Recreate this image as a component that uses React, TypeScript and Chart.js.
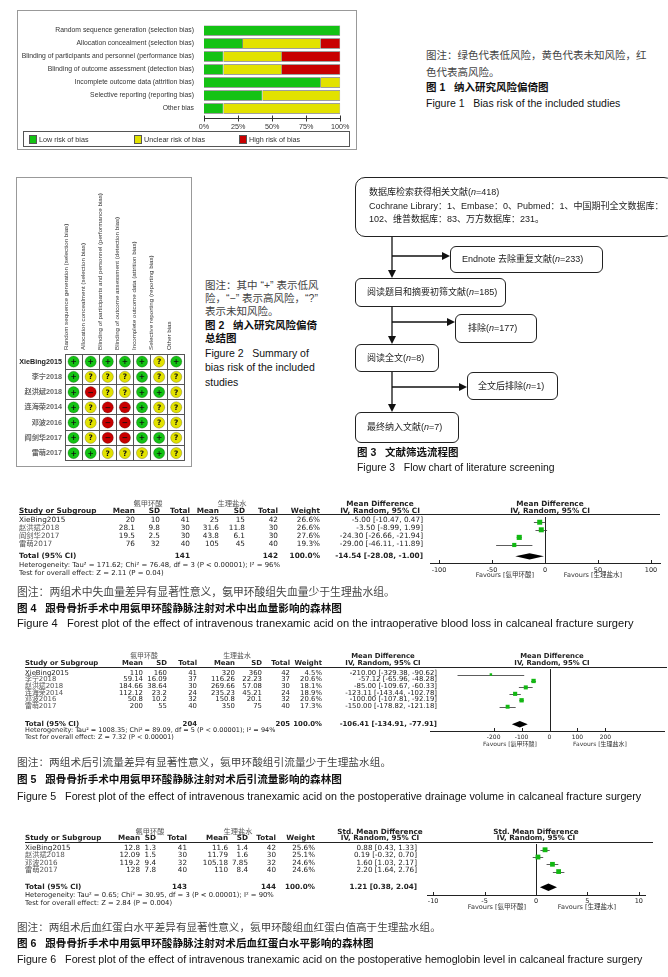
import React, { useEffect, useRef } from 'react';
import { Chart, registerables } from 'chart.js';
Chart.register(...registerables);

const W = 668, H = 977;
const SANS = "'Liberation Sans', Arial, 'Noto Sans CJK SC', sans-serif";
const RM = "'DejaVu Sans', 'Noto Sans CJK SC', sans-serif";
const GREEN = '#14c214', YELLOW = '#e2e200', RED = '#c80000';
const SQ_GREEN = '#12b812';

// ---------- Figure 1 / Figure 2 data ----------
const domains = [
  'Random sequence generation (selection bias)',
  'Allocation concealment (selection bias)',
  'Blinding of participants and personnel (performance bias)',
  'Blinding of outcome assessment (detection bias)',
  'Incomplete outcome data (attrition bias)',
  'Selective reporting (reporting bias)',
  'Other bias',
];
const lowPct = [100, 28.6, 14.3, 14.3, 85.7, 42.9, 14.3];
const unclearPct = [0, 57.1, 42.9, 42.9, 14.3, 57.1, 85.7];
const highPct = [0, 14.3, 42.9, 42.9, 0, 0, 0];
const pctTicks = [0, 25, 50, 75, 100];
const legendLabels = ['Low risk of bias', 'Unclear risk of bias', 'High risk of bias'];

const robStudies = ['XieBing2015', '李宁2018', '赵洪斌2018', '连海荣2014', '邓波2016', '阎剑华2017', '雷萌2017'];
const robJudge: string[][] = [
  ['+', '+', '+', '+', '+', '?', '+'],
  ['+', '?', '?', '?', '+', '?', '?'],
  ['+', '-', '?', '?', '+', '+', '?'],
  ['+', '?', '-', '-', '+', '?', '?'],
  ['+', '?', '-', '-', '+', '?', '?'],
  ['+', '?', '-', '-', '+', '+', '?'],
  ['+', '+', '?', '?', '?', '+', '?'],
];

// ---------- Figure 4 ----------
const f4Studies = ['XieBing2015', '赵洪斌2018', '阎剑华2017', '雷萌2017'];
const f4TxMean = [20, 28.1, 19.5, 76];
const f4TxSD = [10, 9.8, 2.5, 32];
const f4TxN = [41, 30, 30, 40];
const f4CtMean = [25, 31.6, 43.8, 105];
const f4CtSD = [15, 11.8, 6.1, 45];
const f4CtN = [42, 30, 30, 40];
const f4Weight = [26.6, 26.6, 27.6, 19.3];
const f4Est = [-5.0, -3.5, -24.3, -29.0];
const f4Lo = [-10.47, -8.99, -26.66, -46.11];
const f4Hi = [0.47, 1.99, -21.94, -11.89];
const f4Total = { tx: 141, ct: 142, est: -14.54, lo: -28.08, hi: -1.0 };
const f4Ticks = [-100, -50, 0, 50, 100];
const f4Het = 'Heterogeneity: Tau² = 171.62; Chi² = 76.48, df = 3 (P < 0.00001); I² = 96%';
const f4Test = 'Test for overall effect: Z = 2.11 (P = 0.04)';

// ---------- Figure 5 ----------
const f5Studies = ['XieBing2015', '李宁2018', '赵洪斌2018', '连海荣2014', '邓波2016', '雷萌2017'];
const f5TxMean = [110, 59.14, 184.66, 112.12, 50.8, 200];
const f5TxSD = [160, 16.09, 38.64, 23.2, 10.2, 55];
const f5TxN = [41, 37, 30, 24, 32, 40];
const f5CtMean = [320, 116.26, 269.66, 235.23, 150.8, 350];
const f5CtSD = [360, 22.23, 57.08, 45.21, 20.1, 75];
const f5CtN = [42, 37, 30, 24, 32, 40];
const f5Weight = [4.5, 20.6, 18.1, 18.9, 20.6, 17.3];
const f5Est = [-210.0, -57.12, -85.0, -123.11, -100.0, -150.0];
const f5Lo = [-329.38, -65.96, -109.67, -143.44, -107.81, -178.82];
const f5Hi = [-90.62, -48.28, -60.33, -102.78, -92.19, -121.18];
const f5Total = { tx: 204, ct: 205, est: -106.41, lo: -134.91, hi: -77.91 };
const f5Ticks = [-200, -100, 0, 100, 200];
const f5Het = 'Heterogeneity: Tau² = 1008.35; Chi² = 89.09, df = 5 (P < 0.00001); I² = 94%';
const f5Test = 'Test for overall effect: Z = 7.32 (P < 0.00001)';

// ---------- Figure 6 ----------
const f6Studies = ['XieBing2015', '赵洪斌2018', '邓波2016', '雷萌2017'];
const f6TxMean = [12.8, 12.09, 119.2, 128];
const f6TxSD = [1.3, 1.5, 9.4, 7.8];
const f6TxN = [41, 30, 32, 40];
const f6CtMean = [11.6, 11.79, 105.18, 110];
const f6CtSD = [1.4, 1.6, 7.85, 8.4];
const f6CtN = [42, 30, 32, 40];
const f6Weight = [25.6, 25.1, 24.6, 24.6];
const f6Est = [0.88, 0.19, 1.6, 2.2];
const f6Lo = [0.43, -0.32, 1.03, 1.64];
const f6Hi = [1.33, 0.7, 2.17, 2.76];
const f6Total = { tx: 143, ct: 144, est: 1.21, lo: 0.38, hi: 2.04 };
const f6Ticks = [-10, -5, 0, 5, 10];
const f6Het = 'Heterogeneity: Tau² = 0.65; Chi² = 30.95, df = 3 (P < 0.00001); I² = 90%';
const f6Test = 'Test for overall effect: Z = 2.84 (P = 0.004)';

// ---------- helpers ----------
type TP = { x: number; y: number; a?: 'l' | 'r' | 'c'; s?: number; b?: boolean; f?: string; c?: string; children: React.ReactNode };
const T = ({ x, y, a = 'l', s = 10.5, b = false, f = SANS, c = '#111', children }: TP) => {
  const st: React.CSSProperties = {
    position: 'absolute', top: y - s * 0.6, fontSize: s, lineHeight: `${s * 1.2}px`,
    fontFamily: f, fontWeight: b ? 700 : 400, color: c, whiteSpace: 'pre',
  };
  if (a === 'l') st.left = x;
  else if (a === 'r') st.right = W - x;
  else { st.left = x; st.transform = 'translateX(-50%)'; }
  return <div style={st}>{children}</div>;
};
const fmt = (v: number) => v.toFixed(2);
const isAscii = (s: string) => /^[\x00-\x7f]*$/.test(s);

// ---------- Figure 1 chart ----------
function Fig1Chart() {
  const ref = useRef<HTMLCanvasElement>(null);
  useEffect(() => {
    const axisPlugin = {
      id: 'robAxis',
      afterDraw(chart: any) {
        const { ctx, chartArea: ca, scales: { x } } = chart;
        const y0 = Math.round(ca.bottom + 3) + 0.5;
        ctx.save();
        ctx.strokeStyle = '#333';
        ctx.lineWidth = 1;
        ctx.beginPath();
        ctx.moveTo(x.getPixelForValue(0), y0);
        ctx.lineTo(x.getPixelForValue(100), y0);
        pctTicks.forEach((v) => {
          const px = Math.round(x.getPixelForValue(v)) + 0.5;
          ctx.moveTo(px, y0 - 3);
          ctx.lineTo(px, y0 + 3);
        });
        ctx.stroke();
        ctx.restore();
      },
    };
    const ds = (label: string, data: number[], color: string) => ({
      label, data, backgroundColor: color, borderColor: '#555',
      borderWidth: (c: any) => (c.raw > 0 ? 0.7 : 0),
      barPercentage: 0.8, categoryPercentage: 1,
    });
    const chart = new Chart(ref.current!, {
      type: 'bar',
      data: {
        labels: domains,
        datasets: [ds(legendLabels[0], lowPct, GREEN), ds(legendLabels[1], unclearPct, YELLOW), ds(legendLabels[2], highPct, RED)] as any,
      },
      options: {
        indexAxis: 'y', animation: false, responsive: false, events: [],
        layout: { padding: { top: 7, right: 8.5, left: 0, bottom: 0 } },
        plugins: { legend: { display: false }, tooltip: { enabled: false } },
        scales: {
          x: {
            stacked: true, min: 0, max: 100,
            grid: { display: false, drawTicks: false }, border: { display: false },
            afterBuildTicks: (a: any) => { a.ticks = pctTicks.map((v) => ({ value: v })); },
            ticks: { callback: (v: any) => v + '%', font: { size: 7.2, family: SANS }, color: '#333', padding: 7.5, maxRotation: 0, autoSkip: false },
            afterFit: (s: any) => { s.height = 20; },
          },
          y: {
            stacked: true, grid: { display: false, drawTicks: false }, border: { display: false },
            ticks: { font: { size: 6.8, family: SANS }, color: '#333', padding: 10, autoSkip: false },
            afterFit: (s: any) => { s.width = 187; },
          },
        },
      } as any,
      plugins: [axisPlugin],
    });
    return () => chart.destroy();
  }, []);
  return <canvas ref={ref} width={340} height={125} style={{ position: 'absolute', left: 17, top: 10, width: 340, height: 125 }} />;
}

// ---------- Figure 2 chart ----------
function Fig2Chart() {
  const ref = useRef<HTMLCanvasElement>(null);
  useEffect(() => {
    const pts: any[] = [];
    const cols: string[] = [];
    const syms: string[] = [];
    robStudies.forEach((s, i) =>
      domains.forEach((d, j) => {
        const j0 = robJudge[i][j];
        pts.push({ x: d, y: s });
        cols.push(j0 === '+' ? GREEN : j0 === '?' ? YELLOW : RED);
        syms.push(j0 === '+' ? '+' : j0 === '?' ? '?' : '−');
      })
    );
    const symPlugin = {
      id: 'sym',
      afterDatasetsDraw(chart: any) {
        const { ctx } = chart;
        const meta = chart.getDatasetMeta(0);
        ctx.save();
        ctx.fillStyle = '#111';
        ctx.font = "bold 7.5px 'DejaVu Sans'";
        ctx.textAlign = 'center';
        ctx.textBaseline = 'middle';
        meta.data.forEach((el: any, k: number) => ctx.fillText(syms[k], el.x, el.y + 0.5));
        ctx.restore();
      },
    };
    const chart = new Chart(ref.current!, {
      type: 'scatter',
      data: {
        datasets: [{
          data: pts, pointRadius: 5.6, pointBackgroundColor: cols,
          pointBorderColor: 'rgba(0,0,0,0.35)', pointBorderWidth: 0.6,
        }],
      },
      options: {
        animation: false, responsive: false, events: [],
        layout: { padding: { right: 5, bottom: 2, top: 0, left: 0 } },
        plugins: { legend: { display: false }, tooltip: { enabled: false } },
        scales: {
          x: {
            type: 'category', labels: domains, position: 'top', offset: true,
            grid: { offset: true, color: '#555', lineWidth: 1, drawTicks: false },
            border: { display: true, color: '#555' },
            ticks: { font: { size: 6.2, family: SANS }, color: '#333', minRotation: 90, maxRotation: 90, autoSkip: false, padding: 4 },
            afterFit: (s: any) => { s.height = 176; },
          },
          y: {
            type: 'category', labels: robStudies, offset: true,
            grid: { offset: true, color: '#555', lineWidth: 1, drawTicks: false },
            border: { display: true, color: '#555' },
            ticks: {
              font: { size: 7.2, family: SANS, weight: 'bold' },
              color: (c: any) => (isAscii(String(c.tick?.label ?? '')) ? '#222' : '#666'),
              padding: 3, autoSkip: false,
            },
            afterFit: (s: any) => { s.width = 48; },
          },
        },
      } as any,
      plugins: [symPlugin],
    });
    return () => chart.destroy();
  }, []);
  return <canvas ref={ref} width={174} height={290} style={{ position: 'absolute', left: 17, top: 178, width: 174, height: 290 }} />;
}

// ---------- Forest plot block ----------
type FD = {
  studies: string[]; txM: number[]; txSD: number[]; txN: number[];
  ctM: number[]; ctSD: number[]; ctN: number[]; wt: number[];
  est: number[]; lo: number[]; hi: number[];
  tot: { tx: number; ct: number; est: number; lo: number; hi: number };
  ticks: number[]; het: string; test: string; measure: string;
};
type FL = {
  fs: number; gy: number; hy: number; lineY: number; lineX2: number; studyX: number;
  cols: number[]; ciR: number; ciC: number; plotC: number; g1: number; g2: number;
  rowY0: number; rowDy: number; totY: number; hetY: number; testY: number;
  axL: number; axR: number; axY: number; xMin: number; xMax: number;
  tickFs: number; tickPad: number; favY: number; fav1: number; fav2: number; axisH: number; dh: number;
};

function ForestBlock({ d, L }: { d: FD; L: FL }) {
  const ref = useRef<HTMLCanvasElement>(null);
  const cl = L.axL - 6, ct = L.lineY - 2, cw = W - cl, ch = L.axY - ct + L.axisH;
  useEffect(() => {
    const yMin = -(L.rowY0 - L.lineY) / L.rowDy;
    const yMax = (L.axY - L.rowY0) / L.rowDy;
    const totRow = (L.totY - L.rowY0) / L.rowDy;
    const forest = {
      id: 'forest',
      beforeDatasetsDraw(chart: any) {
        const { ctx, chartArea: ca, scales: { x, y } } = chart;
        ctx.save();
        ctx.strokeStyle = '#222';
        ctx.lineWidth = 1;
        const x0 = Math.round(x.getPixelForValue(0)) + 0.5;
        ctx.beginPath();
        ctx.moveTo(x0, ca.top);
        ctx.lineTo(x0, ca.bottom);
        d.ticks.forEach((v) => {
          const px = Math.round(x.getPixelForValue(v)) + 0.5;
          ctx.moveTo(px, ca.bottom);
          ctx.lineTo(px, ca.bottom - 3);
        });
        ctx.stroke();
        ctx.strokeStyle = '#333';
        ctx.lineWidth = 0.8;
        d.lo.forEach((l, i) => {
          const py = Math.round(y.getPixelForValue(i)) + 0.5;
          ctx.beginPath();
          ctx.moveTo(Math.max(ca.left, x.getPixelForValue(l)), py);
          ctx.lineTo(Math.min(ca.right, x.getPixelForValue(d.hi[i])), py);
          ctx.stroke();
        });
        const ty = y.getPixelForValue(totRow);
        ctx.fillStyle = '#000';
        ctx.beginPath();
        ctx.moveTo(x.getPixelForValue(d.tot.lo), ty);
        ctx.lineTo(x.getPixelForValue(d.tot.est), ty - L.dh);
        ctx.lineTo(x.getPixelForValue(d.tot.hi), ty);
        ctx.lineTo(x.getPixelForValue(d.tot.est), ty + L.dh);
        ctx.closePath();
        ctx.fill();
        ctx.restore();
      },
    };
    const chart = new Chart(ref.current!, {
      type: 'scatter',
      data: {
        datasets: [{
          data: d.est.map((v, i) => ({ x: v, y: i })),
          pointStyle: 'rect', pointRadius: d.wt.map((w) => 1.4 + w * 0.08),
          pointBackgroundColor: SQ_GREEN, pointBorderWidth: 0, pointBorderColor: SQ_GREEN,
        }],
      },
      options: {
        animation: false, responsive: false, events: [],
        layout: { padding: { left: 6, right: W - L.axR, top: 2, bottom: 0 } },
        plugins: { legend: { display: false }, tooltip: { enabled: false } },
        scales: {
          x: {
            type: 'linear', min: L.xMin, max: L.xMax,
            afterBuildTicks: (a: any) => { a.ticks = d.ticks.map((v) => ({ value: v })); },
            grid: { display: false, drawTicks: false },
            border: { display: true, color: '#222', width: 1 },
            ticks: { font: { size: L.tickFs, family: RM }, color: '#222', padding: L.tickPad, maxRotation: 0, autoSkip: false },
            afterFit: (s: any) => { s.height = L.axisH; },
          },
          y: { type: 'linear', display: false, reverse: true, min: yMin, max: yMax },
        },
      } as any,
      plugins: [forest],
    });
    return () => chart.destroy();
  }, []);

  const c = L.cols;
  const items: React.ReactNode[] = [];
  const add = (x: number, y: number, t: string, a: 'l' | 'r' | 'c', b = false, col = '#222', s = L.fs) =>
    items.push(<T key={items.length} x={x} y={y} a={a} s={s} b={b} f={RM} c={col}>{t}</T>);
  add(L.g1, L.gy, '氨甲环酸', 'c', false, '#555');
  add(L.g2, L.gy, '生理盐水', 'c', false, '#555');
  add(L.ciC, L.gy, d.measure, 'c', true);
  add(L.plotC, L.gy, d.measure, 'c', true);
  add(L.studyX, L.hy, 'Study or Subgroup', 'l', true);
  ['Mean', 'SD', 'Total', 'Mean', 'SD', 'Total', 'Weight'].forEach((h, i) => add(c[i], L.hy, h, 'r', true));
  add(L.ciC, L.hy, 'IV, Random, 95% CI', 'c', true);
  add(L.plotC, L.hy, 'IV, Random, 95% CI', 'c', true);
  d.studies.forEach((s, i) => {
    const y = L.rowY0 + i * L.rowDy;
    add(L.studyX, y, s, 'l', false, isAscii(s) ? '#222' : '#555');
    const vals = [d.txM[i], d.txSD[i], d.txN[i], d.ctM[i], d.ctSD[i], d.ctN[i]].map(String);
    vals.forEach((v, k) => add(c[k], y, v, 'r'));
    add(c[6], y, d.wt[i].toFixed(1) + '%', 'r');
    add(L.ciR, y, `${fmt(d.est[i])} [${fmt(d.lo[i])}, ${fmt(d.hi[i])}]`, 'r');
  });
  add(L.studyX, L.totY, 'Total (95% CI)', 'l', true);
  add(c[2], L.totY, String(d.tot.tx), 'r', true);
  add(c[5], L.totY, String(d.tot.ct), 'r', true);
  add(c[6], L.totY, '100.0%', 'r', true);
  add(L.ciR, L.totY, `${fmt(d.tot.est)} [${fmt(d.tot.lo)}, ${fmt(d.tot.hi)}]`, 'r', true);
  add(L.studyX, L.hetY, d.het, 'l', false, '#222', L.fs - 0.4);
  add(L.studyX, L.testY, d.test, 'l', false, '#222', L.fs - 0.4);
  add(L.fav1, L.favY, 'Favours [氨甲环酸]', 'c', false, '#333', L.tickFs);
  add(L.fav2, L.favY, 'Favours [生理盐水]', 'c', false, '#333', L.tickFs);

  return (
    <>
      {items}
      <div style={{ position: 'absolute', left: L.studyX, top: L.lineY - 0.5, width: L.lineX2 - L.studyX, height: 1, background: '#222' }} />
      <canvas ref={ref} width={cw} height={ch} style={{ position: 'absolute', left: cl, top: ct, width: cw, height: ch }} />
    </>
  );
}

// ---------- Flow chart (Figure 3) ----------
function Flow() {
  const box = (l: number, t: number, r: number, b: number, rad: number, k: string) => (
    <div key={k} style={{ position: 'absolute', left: l, top: t, width: r - l, height: b - t, border: '1.2px solid #222', borderRadius: rad, boxSizing: 'border-box' }} />
  );
  const fs = 9;
  const n = <i>n</i>;
  const vx = 392;
  const down = (y1: number, y2: number) => (
    <g>
      <line x1={vx} y1={y1} x2={vx} y2={y2 - 7} />
      <polygon points={`${vx},${y2} ${vx - 4},${y2 - 8} ${vx + 4},${y2 - 8}`} fill="#111" stroke="none" />
    </g>
  );
  const right = (y: number, x2: number) => (
    <g>
      <line x1={vx} y1={y} x2={x2 - 7} y2={y} />
      <polygon points={`${x2},${y} ${x2 - 8},${y - 4} ${x2 - 8},${y + 4}`} fill="#111" stroke="none" />
    </g>
  );
  return (
    <>
      {box(355, 177, 674, 237, 10, 'b1')}
      {box(450, 246, 603, 273, 6, 'b2')}
      {box(355, 278, 506, 307, 6, 'b3')}
      {box(455, 314, 537, 343, 6, 'b4')}
      {box(355, 344, 439, 372, 6, 'b5')}
      {box(467, 372, 558, 400, 6, 'b6')}
      {box(355, 412, 459, 443, 6, 'b7')}
      <svg width={W} height={H} style={{ position: 'absolute', left: 0, top: 0 }}>
        <g stroke="#111" strokeWidth={1.3} fill="none">
          {down(237, 278)}
          {right(256, 450)}
          {down(307, 344)}
          {right(322, 455)}
          {down(372, 412)}
          {right(387, 467)}
        </g>
      </svg>
      <T x={369} y={192} s={fs} c="#222">数据库检索获得相关文献({n}=418)</T>
      <T x={369} y={206} s={fs} c="#222">Cochrane Library：1、Embase：0、Pubmed：1、中国期刊全文数据库：</T>
      <T x={369} y={219} s={fs} c="#222">102、维普数据库：83、万方数据库：231。</T>
      <T x={462} y={259.5} s={fs} c="#222">Endnote 去除重复文献({n}=233)</T>
      <T x={367} y={292.5} s={fs} c="#222">阅读题目和摘要初筛文献({n}=185)</T>
      <T x={468} y={328.5} s={fs} c="#222">排除({n}=177)</T>
      <T x={367} y={358} s={fs} c="#222">阅读全文({n}=8)</T>
      <T x={478} y={386} s={fs} c="#222">全文后排除({n}=1)</T>
      <T x={367} y={427.5} s={fs} c="#222">最终纳入文献({n}=7)</T>
    </>
  );
}

const f4: FD = { studies: f4Studies, txM: f4TxMean, txSD: f4TxSD, txN: f4TxN, ctM: f4CtMean, ctSD: f4CtSD, ctN: f4CtN, wt: f4Weight, est: f4Est, lo: f4Lo, hi: f4Hi, tot: f4Total, ticks: f4Ticks, het: f4Het, test: f4Test, measure: 'Mean Difference' };
const f5: FD = { studies: f5Studies, txM: f5TxMean, txSD: f5TxSD, txN: f5TxN, ctM: f5CtMean, ctSD: f5CtSD, ctN: f5CtN, wt: f5Weight, est: f5Est, lo: f5Lo, hi: f5Hi, tot: f5Total, ticks: f5Ticks, het: f5Het, test: f5Test, measure: 'Mean Difference' };
const f6: FD = { studies: f6Studies, txM: f6TxMean, txSD: f6TxSD, txN: f6TxN, ctM: f6CtMean, ctSD: f6CtSD, ctN: f6CtN, wt: f6Weight, est: f6Est, lo: f6Lo, hi: f6Hi, tot: f6Total, ticks: f6Ticks, het: f6Het, test: f6Test, measure: 'Std. Mean Difference' };

const L4: FL = { fs: 7.3, gy: 504.5, hy: 511, lineY: 514.5, lineX2: 660, studyX: 19, cols: [135, 160, 190, 219, 245, 278, 320], ciR: 423, ciC: 380, plotC: 550, g1: 148, g2: 232, rowY0: 520, rowDy: 8, totY: 556, hetY: 565.5, testY: 573, axL: 430, axR: 660, axY: 563, xMin: -108.5, xMax: 108.5, tickFs: 6.5, tickPad: 3, favY: 575.5, fav1: 505, fav2: 593, axisH: 14, dh: 3.2 };
const L5: FL = { fs: 6.9, gy: 656, hy: 663, lineY: 667, lineX2: 667, studyX: 25, cols: [143, 167, 197, 235, 262, 290, 322], ciR: 437, ciC: 383, plotC: 552, g1: 144, g2: 237, rowY0: 672.7, rowDy: 6.65, totY: 724, hetY: 731, testY: 738, axL: 430, axR: 665, axY: 731, xMin: -428, xMax: 410, tickFs: 6, tickPad: 2.5, favY: 744, fav1: 510, fav2: 600, axisH: 13, dh: 3.3 };
const L6: FL = { fs: 7.2, gy: 832, hy: 838.5, lineY: 842, lineX2: 653, studyX: 25, cols: [140, 156, 187, 228, 248, 276, 315], ciR: 417, ciC: 380, plotC: 536, g1: 150, g2: 238, rowY0: 848, rowDy: 7.55, totY: 887, hetY: 895.5, testY: 903, axL: 427, axR: 645, axY: 895, xMin: -10.6, xMax: 10.6, tickFs: 6.5, tickPad: 2, favY: 908, fav1: 497, fav2: 587, axisH: 15, dh: 3.8 };

export default function App() {
  const gray = '#444';
  return (
    <div style={{ position: 'absolute', left: 0, top: 0, width: W, height: H, background: '#fff', overflow: 'hidden' }}>
      {/* Figure 1 */}
      <div style={{ position: 'absolute', left: 17, top: 10, width: 340, height: 140, border: '1px solid #999', boxSizing: 'border-box' }} />
      <Fig1Chart />
      <div style={{ position: 'absolute', left: 22.5, top: 131, width: 327.5, height: 16, border: '1px solid #555', boxSizing: 'border-box' }} />
      {[GREEN, YELLOW, RED].map((col, i) => (
        <div key={i} style={{ position: 'absolute', left: [28.5, 133.5, 238.5][i], top: 134.5, width: 8.5, height: 9.5, background: col, border: '0.7px solid #555', boxSizing: 'border-box' }} />
      ))}
      {legendLabels.map((l, i) => (
        <T key={i} x={[39, 144, 249][i]} y={140} s={7.2} c="#333">{l}</T>
      ))}
      <T x={426} y={55} c={gray}>图注：绿色代表低风险，黄色代表未知风险，红</T>
      <T x={426} y={72} c={gray}>色代表高风险。</T>
      <T x={426} y={87.5} b>图 1   纳入研究风险偏倚图</T>
      <T x={426} y={103}>Figure 1   Bias risk of the included studies</T>

      {/* Figure 2 */}
      <div style={{ position: 'absolute', left: 16, top: 177, width: 176, height: 290, border: '1px solid #999', boxSizing: 'border-box' }} />
      <Fig2Chart />
      <T x={205} y={285} c={gray}>图注：其中 “+” 表示低风</T>
      <T x={205} y={298.5} c={gray}>险，“−” 表示高风险，“?”</T>
      <T x={205} y={311.5} c={gray}>表示未知风险。</T>
      <T x={205} y={325} b>图 2   纳入研究风险偏倚</T>
      <T x={205} y={338} b>总结图</T>
      <T x={205} y={353.5}>Figure 2   Summary of</T>
      <T x={205} y={367}>bias risk of the included</T>
      <T x={205} y={382}>studies</T>

      {/* Figure 3 */}
      <Flow />
      <T x={357} y={452} b>图 3   文献筛选流程图</T>
      <T x={357} y={468} s={10.4}>Figure 3   Flow chart of literature screening</T>

      {/* Figure 4 */}
      <ForestBlock d={f4} L={L4} />
      <T x={17} y={592} s={10.8} c={gray}>图注：两组术中失血量差异有显著性意义，氨甲环酸组失血量少于生理盐水组。</T>
      <T x={17} y={608} s={10.6} b>图 4   跟骨骨折手术中用氨甲环酸静脉注射对术中出血量影响的森林图</T>
      <T x={17} y={624} s={11.1}>Figure 4   Forest plot of the effect of intravenous tranexamic acid on the intraoperative blood loss in calcaneal fracture surgery</T>

      {/* Figure 5 */}
      <ForestBlock d={f5} L={L5} />
      <T x={17} y={762} s={10.7} c={gray}>图注：两组术后引流量差异有显著性意义，氨甲环酸组引流量少于生理盐水组。</T>
      <T x={17} y={779} s={10.6} b>图 5   跟骨骨折手术中用氨甲环酸静脉注射对术后引流量影响的森林图</T>
      <T x={17} y={796} s={10.7}>Figure 5   Forest plot of the effect of intravenous tranexamic acid on the postoperative drainage volume in calcaneal fracture surgery</T>

      {/* Figure 6 */}
      <ForestBlock d={f6} L={L6} />
      <T x={17} y={927} s={10.6} c={gray}>图注：两组术后血红蛋白水平差异有显著性意义，氨甲环酸组血红蛋白值高于生理盐水组。</T>
      <T x={17} y={943} s={10.6} b>图 6   跟骨骨折手术中用氨甲环酸静脉注射对术后血红蛋白水平影响的森林图</T>
      <T x={17} y={959} s={10.7}>Figure 6   Forest plot of the effect of intravenous tranexamic acid on the postoperative hemoglobin level in calcaneal fracture surgery</T>
    </div>
  );
}
